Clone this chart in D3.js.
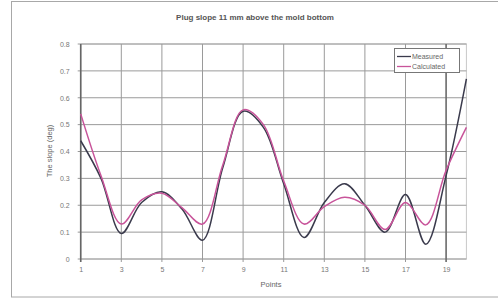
<!DOCTYPE html>
<html><head><meta charset="utf-8">
<script src="https://cdn.jsdelivr.net/npm/d3@7/dist/d3.min.js"></script>
<style>
body{margin:0;background:#fff;}
svg{display:block;font-family:"Liberation Sans",Arial,sans-serif;}
</style></head>
<body><svg id="c" width="498" height="300"></svg>
<script>
const points = d3.range(1, 21);
const measured = [0.44, 0.30, 0.095, 0.21, 0.25, 0.185, 0.07, 0.34, 0.55, 0.49, 0.28, 0.08, 0.21, 0.28, 0.20, 0.10, 0.24, 0.055, 0.31, 0.67];
const calculated = [0.54, 0.31, 0.13, 0.22, 0.245, 0.19, 0.13, 0.35, 0.555, 0.50, 0.29, 0.13, 0.195, 0.23, 0.20, 0.11, 0.21, 0.127, 0.33, 0.49];
const xTicks = [1, 3, 5, 7, 9, 11, 13, 15, 17, 19];
const yTicks = [0, 0.1, 0.2, 0.3, 0.4, 0.5, 0.6, 0.7, 0.8];
const seriesNames = ["Measured", "Calculated"];
const colors = ["#3a3a4c", "#c8549a"];

const svg = d3.select("#c");
// outer chart border
svg.append("rect").attr("x", 11.5).attr("y", 1.5).attr("width", 500).attr("height", 295.5)
  .attr("fill", "#fff").attr("stroke", "#a8a8a8").attr("stroke-width", 1);

const L = 80.7, R = 466.4, T = 44, B = 259;
const x = d3.scaleLinear().domain([1, 20]).range([L, R]);
const y = d3.scaleLinear().domain([0, 0.8]).range([B, T]);

// plot area border
svg.append("rect").attr("x", L).attr("y", T).attr("width", R - L).attr("height", B - T)
  .attr("fill", "#fff").attr("stroke", "#c8c8c8");

// horizontal gridlines
svg.append("g").selectAll("line").data(yTicks).join("line")
  .attr("x1", L - 3).attr("x2", R).attr("y1", d => y(d)).attr("y2", d => y(d))
  .attr("stroke", "#9a9a9a").attr("stroke-width", 1);
// vertical gridlines
svg.append("g").selectAll("line").data(xTicks).join("line")
  .attr("x1", d => x(d)).attr("x2", d => x(d)).attr("y1", T).attr("y2", B + 3)
  .attr("stroke", d => d === 19 ? "#6a6a6a" : "#9a9a9a")
  .attr("stroke-width", d => d === 19 ? 1.6 : 1);
// y axis line
svg.append("line").attr("x1", L).attr("x2", L).attr("y1", T).attr("y2", B + 3)
  .attr("stroke", "#666").attr("stroke-width", 1.6);

// y tick labels
const yAxis = d3.axisLeft(y).tickValues(yTicks).tickSize(0).tickPadding(0)
  .tickFormat(d => d === 0 ? "0" : d3.format(".1f")(d));
const gy = svg.append("g").attr("transform", `translate(${L - 11},0)`).call(yAxis);
gy.select(".domain").remove();
gy.selectAll("text").attr("font-size", 7).attr("fill", "#777").attr("font-family", "Liberation Sans, Arial, sans-serif");

// x tick labels
const xAxis = d3.axisBottom(x).tickValues(xTicks).tickSize(0).tickPadding(0).tickFormat(d3.format("d"));
const gx = svg.append("g").attr("transform", `translate(0,${B + 8})`).call(xAxis);
gx.select(".domain").remove();
gx.selectAll("text").attr("font-size", 7).attr("fill", "#777").attr("font-family", "Liberation Sans, Arial, sans-serif");

// lines
const line = d3.line().x((d, i) => x(points[i])).y(d => y(d)).curve(d3.curveCatmullRom.alpha(0.5));
[measured, calculated].forEach((s, k) => {
  svg.append("path").datum(s).attr("d", line).attr("fill", "none")
    .attr("stroke", colors[k]).attr("stroke-width", 1.5);
});

// title
svg.append("text").attr("x", 255).attr("y", 20).attr("text-anchor", "middle")
  .attr("font-size", 8).attr("font-weight", "bold").attr("fill", "#555")
  .text("Plug slope 11 mm above the mold bottom");
// axis titles
svg.append("text").attr("x", 271).attr("y", 287).attr("text-anchor", "middle")
  .attr("font-size", 7.5).attr("fill", "#666").text("Points");
svg.append("text").attr("transform", "translate(52,151) rotate(-90)").attr("text-anchor", "middle")
  .attr("font-size", 7.5).attr("fill", "#666").text("The slope (deg)");

// legend
const lg = svg.append("g").attr("transform", "translate(394,48)");
lg.append("rect").attr("x", 0.5).attr("y", 0.5).attr("width", 65).attr("height", 24)
  .attr("fill", "#fff").attr("stroke", "#777");
seriesNames.forEach((n, k) => {
  const yy = 8.5 + k * 10;
  lg.append("line").attr("x1", 3).attr("x2", 17).attr("y1", yy).attr("y2", yy)
    .attr("stroke", colors[k]).attr("stroke-width", 1.3);
  lg.append("text").attr("x", 18).attr("y", yy + 2.5).attr("font-size", 7).attr("fill", "#666").text(n);
});
</script></body></html>
